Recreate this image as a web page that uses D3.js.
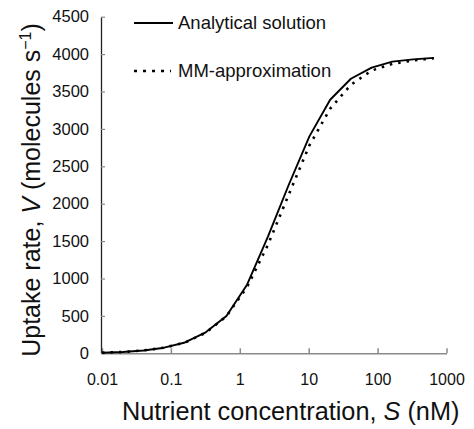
<!DOCTYPE html>
<html>
<head>
<meta charset="utf-8">
<script src="https://cdn.jsdelivr.net/npm/d3@7"></script>
<style>
  html, body { margin: 0; padding: 0; background: #fff; }
  svg text { font-family: "Liberation Sans", Arial, Helvetica, sans-serif; fill: #111; }
</style>
</head>
<body>
<div id="chart"></div>
<script>
// nutrient concentration S (nM), sampled by doubling
const concentration = [0.01, 0.02, 0.04, 0.08, 0.16, 0.32, 0.64, 1.28, 2.56, 5.12,
    10.24, 20.48, 40.96, 81.92, 163.84, 327.68, 655.36];
// uptake rate V (molecules s-1)
const analytical = [8, 18, 38, 75, 145, 280, 500, 920, 1560, 2250,
    2900, 3390, 3670, 3820, 3900, 3930, 3950];
const mmApprox = [8, 18, 38, 75, 143, 275, 495, 890, 1450, 2120,
    2780, 3270, 3590, 3780, 3870, 3915, 3945];

const xTicks = [0.01, 0.1, 1, 10, 100, 1000];
const yTicks = [0, 500, 1000, 1500, 2000, 2500, 3000, 3500, 4000, 4500];
const legendLabels = ["Analytical solution", "MM-approximation"];

const width = 474, height = 429;
const svg = d3.select("#chart").append("svg")
    .attr("width", width)
    .attr("height", height);

const x = d3.scaleLog().domain([0.01, 1000]).range([102, 446.5]);
const y = d3.scaleLinear().domain([0, 4500]).range([353.3, 16.7]);

// x axis (grey, ticks pointing up)
const xAxis = svg.append("g")
    .attr("transform", `translate(0,${y(0)})`)
    .call(d3.axisBottom(x)
        .tickValues(xTicks)
        .tickFormat(d => String(d))
        .tickSizeInner(-5)
        .tickSizeOuter(0)
        .tickPadding(20.5));
xAxis.select(".domain").attr("stroke", "#8a8a8a").attr("stroke-width", 1.5);
xAxis.selectAll(".tick line").attr("stroke", "#8a8a8a").attr("stroke-width", 1.5);
xAxis.selectAll(".tick text").style("font-size", "16px").attr("fill", "#111");

// y axis (dark line, grey ticks pointing in)
const yAxis = svg.append("g")
    .attr("transform", `translate(${x(0.01) - 1},0)`)
    .call(d3.axisLeft(y)
        .tickValues(yTicks)
        .tickFormat(d3.format("d"))
        .tickSizeInner(-4)
        .tickSizeOuter(0)
        .tickPadding(12));
yAxis.select(".domain").attr("stroke", "#222").attr("stroke-width", 1.3);
yAxis.selectAll(".tick line").attr("stroke", "#8a8a8a").attr("stroke-width", 1.2);
yAxis.selectAll(".tick text").style("font-size", "16.5px").attr("fill", "#111");

const line = d3.line()
    .x((d, i) => x(concentration[i]))
    .y(d => y(d));

svg.append("path")
    .datum(mmApprox)
    .attr("d", line)
    .attr("fill", "none")
    .attr("stroke", "#000")
    .attr("stroke-width", 2.6)
    .attr("stroke-dasharray", "2.5,6");

svg.append("path")
    .datum(analytical)
    .attr("d", line)
    .attr("fill", "none")
    .attr("stroke", "#000")
    .attr("stroke-width", 1.9)
    .attr("stroke-linejoin", "round");

// legend
const legend = svg.append("g");
legend.append("line")
    .attr("x1", 134).attr("x2", 173).attr("y1", 23).attr("y2", 23)
    .attr("stroke", "#000").attr("stroke-width", 1.9);
legend.append("line")
    .attr("x1", 134).attr("x2", 171).attr("y1", 71).attr("y2", 71)
    .attr("stroke", "#000").attr("stroke-width", 2.6)
    .attr("stroke-dasharray", "3,6");
legend.selectAll("text.leg")
    .data(legendLabels)
    .enter()
    .append("text")
    .attr("class", "leg")
    .attr("x", 178)
    .attr("y", (d, i) => 29 + i * 48)
    .style("font-size", "18.5px")
    .text(d => d);

// axis titles
const xTitle = svg.append("text")
    .attr("x", 122)
    .attr("y", 420)
    .style("font-size", "25.3px");
xTitle.append("tspan").text("Nutrient concentration, ");
xTitle.append("tspan").style("font-style", "italic").text("S");
xTitle.append("tspan").text(" (nM)");

const yTitle = svg.append("text")
    .attr("transform", "translate(40,190) rotate(-90)")
    .attr("text-anchor", "middle")
    .style("font-size", "25px");
yTitle.append("tspan").text("Uptake rate, ");
yTitle.append("tspan").style("font-style", "italic").text("V");
yTitle.append("tspan").text(" (molecules s");
yTitle.append("tspan").attr("dy", -9).style("font-size", "16px").text("\u22121");
yTitle.append("tspan").attr("dy", 9).text(")");
</script>
</body>
</html>
